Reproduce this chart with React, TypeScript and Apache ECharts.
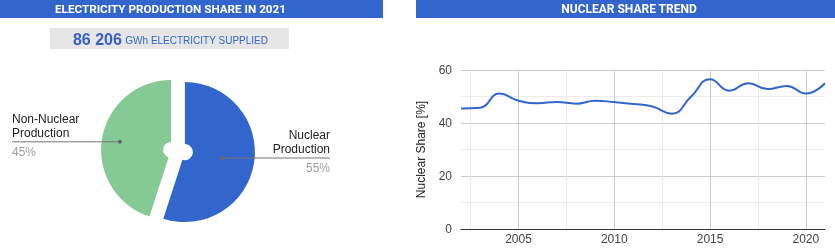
import React, { useEffect, useRef } from "react";
import * as echarts from "echarts";

// ---- data ----
const pieCategories = ["Nuclear Production", "Non-Nuclear Production"];
const pieValues = [55, 45];
const pieColors = ["#3366cc", "#85c994"];

const years = [
  2002, 2003, 2004, 2005, 2006, 2007, 2008, 2009, 2010, 2011,
  2012, 2013, 2014, 2015, 2016, 2017, 2018, 2019, 2020, 2021,
];
const nuclearShare = [
  45.5, 45.8, 51.1, 48.4, 47.5, 47.9, 47.3, 48.4, 47.9, 47.2,
  46.2, 43.5, 49.9, 56.5, 52.2, 55.0, 52.8, 54.0, 51.1, 55.0,
];
const xMajorGrid = [2005, 2010, 2015, 2020];
const xMinorGrid = [2002.5, 2007.5, 2012.5, 2017.5];
const suppliedGWh = "86 206";

// ---- layout constants ----
const PIE_CENTER = [178, 151];
const PIE_R = 70;
const PIE_INNER = 8;
const SLICE_OFFSET = 7;
const DOT_FRACTION = [0.54, 0.74];
const LABEL_EDGE = [330, 12];
const FONT = "'Liberation Sans', Arial, sans-serif";

function labelGeom(i: number) {
  const total = pieValues.reduce((a, b) => a + b, 0);
  let start = 0;
  for (let k = 0; k < i; k++) start += pieValues[k];
  const mid = (start + pieValues[i] / 2) / total;
  const th = mid * Math.PI * 2;
  const dx = Math.sin(th);
  const dy = -Math.cos(th);
  const cx = PIE_CENTER[0] + SLICE_OFFSET * dx;
  const cy = PIE_CENTER[1] + SLICE_OFFSET * dy;
  const d = DOT_FRACTION[i] * PIE_R;
  return { x: cx + d * dx, y: cy + d * dy, right: dx >= 0 };
}

export default function App() {
  const ref = useRef<HTMLDivElement>(null);
  useEffect(() => {
    if (!ref.current) return;
    const chart = echarts.init(ref.current, undefined, { renderer: "svg" });
    const total = pieValues.reduce((a, b) => a + b, 0);
    const dots = pieValues.map((_, i) => labelGeom(i));

    const pieLabelGraphics: any[] = [];
    pieCategories.forEach((name, i) => {
      const p = dots[i];
      const edge = LABEL_EDGE[i];
      const align = p.right ? "right" : "left";
      const pct = Math.round((pieValues[i] / total) * 100) + "%";
      pieLabelGraphics.push(
        {
          type: "polyline", z: 100, silent: true,
          shape: { points: [[p.x, p.y], [edge, p.y]] },
          style: { stroke: "#757575", lineWidth: 1, fill: null },
        },
        { type: "circle", z: 101, silent: true, shape: { cx: p.x, cy: p.y, r: 2 }, style: { fill: "#666" } },
        {
          type: "text", z: 101, silent: true, x: edge, y: p.y - 16,
          style: {
            text: name.split(" ").join("\n"), fill: "#222", font: `12px ${FONT}`,
            lineHeight: 14, align, verticalAlign: "middle",
          },
        },
        {
          type: "text", z: 101, silent: true, x: edge, y: p.y + 9.7,
          style: { text: pct, fill: "#9e9e9e", font: `12px ${FONT}`, align, verticalAlign: "middle" },
        }
      );
    });

    const option: any = {
      animation: false,
      textStyle: { fontFamily: FONT },
      graphic: [
        { type: "rect", shape: { x: 0, y: 0, width: 383, height: 18 }, style: { fill: "#3366cc" } },
        { type: "rect", shape: { x: 416, y: 0, width: 419, height: 18 }, style: { fill: "#3366cc" } },
        {
          type: "text", x: 170.5, y: 9,
          style: { text: "ELECTRICITY PRODUCTION SHARE IN 2021", fill: "#fff", font: "bold 11.7px Roboto", align: "center", verticalAlign: "middle" },
        },
        {
          type: "text", x: 629, y: 9,
          style: { text: "NUCLEAR SHARE TREND", fill: "#fff", font: "bold 12px Roboto", align: "center", verticalAlign: "middle" },
        },
        { type: "rect", shape: { x: 50, y: 28, width: 239, height: 21 }, style: { fill: "#e6e6e6" } },
        {
          type: "text", x: 170.5, y: 39,
          style: {
            text: `{a|${suppliedGWh}} {b|GWh ELECTRICITY SUPPLIED}`,
            align: "center", verticalAlign: "middle",
            rich: {
              a: { fontFamily: FONT, fontWeight: "bold", fontSize: 16, fill: "#3a5ec6", lineHeight: 20 },
              b: { fontFamily: FONT, fontSize: 10, fill: "#3366cc", lineHeight: 20, padding: [3, 0, 0, 0] },
            },
          },
        },
        ...pieLabelGraphics,
      ],
      grid: { left: 461, right: 10, top: 70, bottom: 23 },
      xAxis: {
        type: "value",
        min: 2002,
        max: 2021,
        interval: 1,
        axisLine: { show: true, lineStyle: { color: "#333", width: 1 } },
        axisTick: { show: false },
        splitLine: { show: false },
        axisLabel: {
          color: "#444", fontSize: 12, margin: 4, fontFamily: FONT,
          formatter: (v: number) => (v % 5 === 0 ? String(v) : ""),
        },
      },
      yAxis: {
        type: "value",
        min: 0,
        max: 60,
        interval: 20,
        name: "Nuclear Share [%]",
        nameLocation: "middle",
        nameGap: 34,
        nameTextStyle: { color: "#222", fontSize: 12, fontFamily: FONT },
        axisLine: { show: false },
        axisTick: { show: false },
        axisLabel: { color: "#444", fontSize: 12, margin: 9, fontFamily: FONT },
        splitLine: { lineStyle: { color: "#cccccc" } },
        minorTick: { show: false, splitNumber: 2 },
        minorSplitLine: { show: true, lineStyle: { color: "#ebebeb" } },
      },
      series: [
        {
          type: "pie",
          center: PIE_CENTER,
          radius: [PIE_INNER, PIE_R],
          startAngle: 90,
          clockwise: true,
          selectedMode: "multiple",
          selectedOffset: SLICE_OFFSET,
          emphasis: { disabled: true },
          silent: true,
          label: { show: false },
          labelLine: { show: false },
          data: pieCategories.map((name, i) => ({
            name,
            value: pieValues[i],
            selected: true,
            itemStyle: { color: pieColors[i] },
            select: { itemStyle: { color: pieColors[i] } },
          })),
        },
        {
          type: "line",
          data: years.map((y, i) => [y, nuclearShare[i]]),
          smooth: 0.5,
          symbol: "none",
          z: 1,
          lineStyle: { opacity: 0 },
          silent: true,
          markLine: {
            silent: true,
            symbol: ["none", "none"],
            label: { show: false },
            data: [
              ...xMinorGrid.map((x) => ({ xAxis: x, lineStyle: { color: "#ebebeb", type: "solid", width: 1 } })),
              ...xMajorGrid.map((x) => ({ xAxis: x, lineStyle: { color: "#cccccc", type: "solid", width: 1 } })),
            ],
          },
        },
        {
          type: "line",
          data: years.map((y, i) => [y, nuclearShare[i]]),
          smooth: 0.5,
          symbol: "none",
          z: 5,
          lineStyle: { color: "#3366cc", width: 2 },
        },
      ],
    };
    chart.setOption(option);
    return () => chart.dispose();
  }, []);
  return (
    <div
      ref={ref}
      style={{ position: "fixed", left: 0, top: 0, width: 835, height: 252 }}
    />
  );
}
